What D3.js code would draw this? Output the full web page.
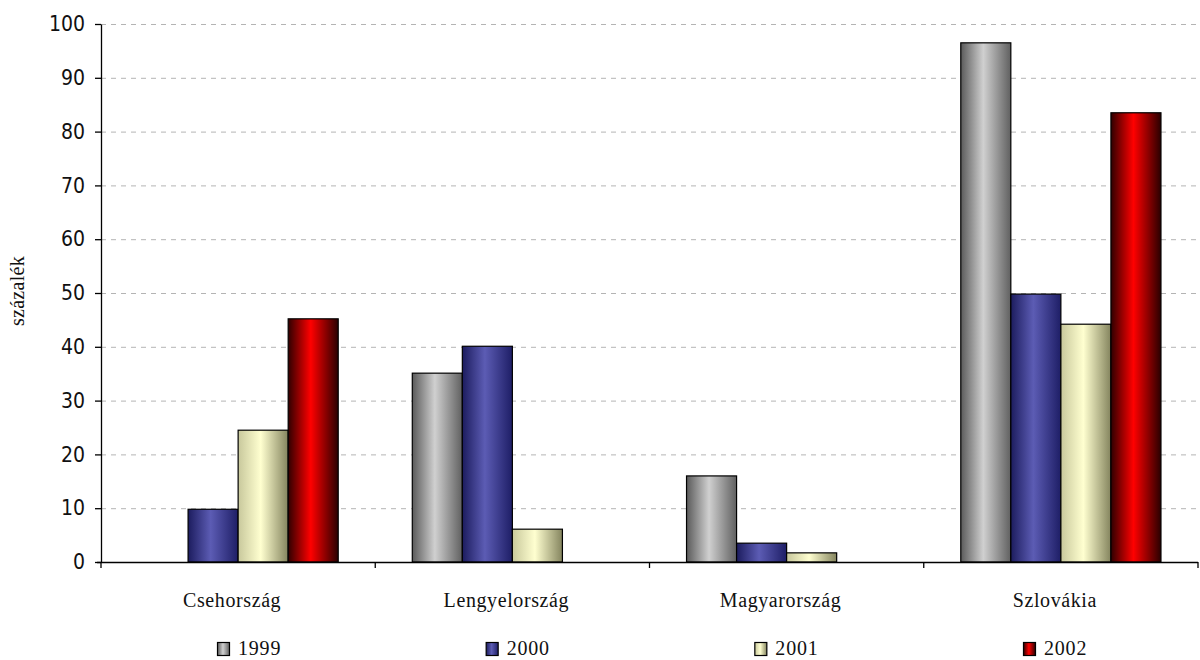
<!DOCTYPE html>
<html>
<head>
<meta charset="utf-8">
<script src="https://cdn.jsdelivr.net/npm/d3@7/dist/d3.min.js"></script>
<style>
  html, body { margin: 0; padding: 0; background: #fff; }
  svg { display: block; }
</style>
</head>
<body>
<svg id="chart" width="1200" height="660"></svg>
<script>
// Countries along the x axis
const categories = ["Csehország", "Lengyelország", "Magyarország", "Szlovákia"];
// Years shown as series
const years = ["1999", "2000", "2001", "2002"];
// Percentages per year, one value per country
const values1999 = [0, 35.1, 16.0, 96.5];
const values2000 = [9.8, 40.1, 3.5, 49.8];
const values2001 = [24.5, 6.1, 1.7, 44.2];
const values2002 = [45.2, 0, 0, 83.5];
const yTicks = [0, 10, 20, 30, 40, 50, 60, 70, 80, 90, 100];
const yLabel = "százalék";

const seriesValues = [values1999, values2000, values2001, values2002];

// Cylinder-like horizontal shading for each series: edge, highlight, edge
const shades = [
  ["#5a5a5a", "#d0d0d0", "#606060"],
  ["#1c1c5e", "#5c5cb4", "#1e1e66"],
  ["#c8c89c", "#ffffd0", "#84845e"],
  ["#300000", "#ff0000", "#2a0000"]
];

const svg = d3.select("#chart");
const plotLeft = 101, plotRight = 1198, plotTop = 24, plotBottom = 562;

const x0 = d3.scaleBand().domain(categories).range([plotLeft, plotRight]).paddingInner(0).paddingOuter(0);
const x1 = d3.scaleBand().domain(years).range([0, x0.bandwidth()]).paddingInner(0).paddingOuter(0.74);
const y = d3.scaleLinear().domain([0, 100]).range([plotBottom, plotTop]);
const legendX = d3.scalePoint().domain(years).range([217, 1023]);

// Gradients
const defs = svg.append("defs");
shades.forEach((s, i) => {
  const g = defs.append("linearGradient").attr("id", "grad" + i)
    .attr("x1", "0%").attr("x2", "100%").attr("y1", "0%").attr("y2", "0%");
  g.append("stop").attr("offset", "0%").attr("stop-color", s[0]);
  g.append("stop").attr("offset", "45%").attr("stop-color", s[1]);
  g.append("stop").attr("offset", "100%").attr("stop-color", s[2]);
});

// Dashed grid lines
svg.append("g").selectAll("line")
  .data(yTicks.filter(d => d > 0))
  .join("line")
  .attr("x1", plotLeft).attr("x2", plotRight)
  .attr("y1", d => y(d) + 0.5).attr("y2", d => y(d) + 0.5)
  .attr("stroke", "#b4b4b4").attr("stroke-width", 1)
  .attr("stroke-dasharray", "5,5");

// Bars
const groups = svg.append("g").selectAll("g")
  .data(categories)
  .join("g")
  .attr("transform", d => `translate(${x0(d)},0)`);

groups.selectAll("rect")
  .data((c, ci) => years.map((yr, si) => ({ yr, si, v: seriesValues[si][ci] })).filter(d => d.v > 0))
  .join("rect")
  .attr("x", d => x1(d.yr))
  .attr("width", x1.bandwidth())
  .attr("y", d => y(d.v))
  .attr("height", d => y(0) - y(d.v))
  .attr("fill", d => `url(#grad${d.si})`)
  .attr("stroke", "#000").attr("stroke-width", 1.2);

// Y axis
const yAxis = svg.append("g")
  .attr("transform", `translate(${plotLeft},0)`)
  .call(d3.axisLeft(y).tickValues(yTicks).tickSize(6).tickPadding(10).tickSizeOuter(0));
yAxis.select(".domain").attr("stroke", "#000").attr("stroke-width", 1.3);
yAxis.selectAll(".tick line").attr("stroke", "#000").attr("stroke-width", 1.3);
yAxis.selectAll("text")
  .attr("font-family", "'Liberation Sans Narrow', 'DejaVu Sans Condensed', 'Liberation Sans', sans-serif")
  .attr("font-size", 21).attr("fill", "#111");

// X axis with ticks between categories
const xAxisG = svg.append("g").attr("transform", `translate(0,${plotBottom})`);
xAxisG.append("line").attr("x1", plotLeft - 4).attr("x2", plotRight).attr("y1", 0.5).attr("y2", 0.5)
  .attr("stroke", "#000").attr("stroke-width", 1.3);
const boundaries = categories.map(c => x0(c)).concat([x0(categories[categories.length - 1]) + x0.bandwidth()]);
xAxisG.selectAll("line.tk").data(boundaries).join("line").attr("class", "tk")
  .attr("x1", d => d).attr("x2", d => d).attr("y1", 0).attr("y2", 6)
  .attr("stroke", "#000").attr("stroke-width", 1.3);
xAxisG.selectAll("text").data(categories).join("text")
  .attr("x", d => x0(d) + x0.bandwidth() / 2 - 6)
  .attr("y", 45)
  .attr("text-anchor", "middle")
  .attr("font-family", "'Liberation Serif', 'Times New Roman', serif")
  .attr("font-size", 20).attr("letter-spacing", 0.6).attr("fill", "#111")
  .text(d => d);

// Y axis title
svg.append("text")
  .attr("transform", `translate(24,291) rotate(-90)`)
  .attr("text-anchor", "middle")
  .attr("font-family", "'Liberation Serif', 'Times New Roman', serif")
  .attr("font-size", 20).attr("letter-spacing", 0.3).attr("fill", "#111")
  .text(yLabel);

// Legend
const legend = svg.append("g").selectAll("g")
  .data(years)
  .join("g")
  .attr("transform", d => `translate(${legendX(d)},642)`);
legend.append("rect")
  .attr("x", 0.5).attr("y", 0.5).attr("width", 12).attr("height", 13)
  .attr("fill", (d, i) => `url(#grad${i})`)
  .attr("stroke", "#000").attr("stroke-width", 1.2);
legend.append("text")
  .attr("x", 21).attr("y", 13)
  .attr("font-family", "'Liberation Serif', 'Times New Roman', serif")
  .attr("font-size", 20).attr("letter-spacing", 0.8).attr("fill", "#111")
  .text(d => d);
</script>
</body>
</html>
